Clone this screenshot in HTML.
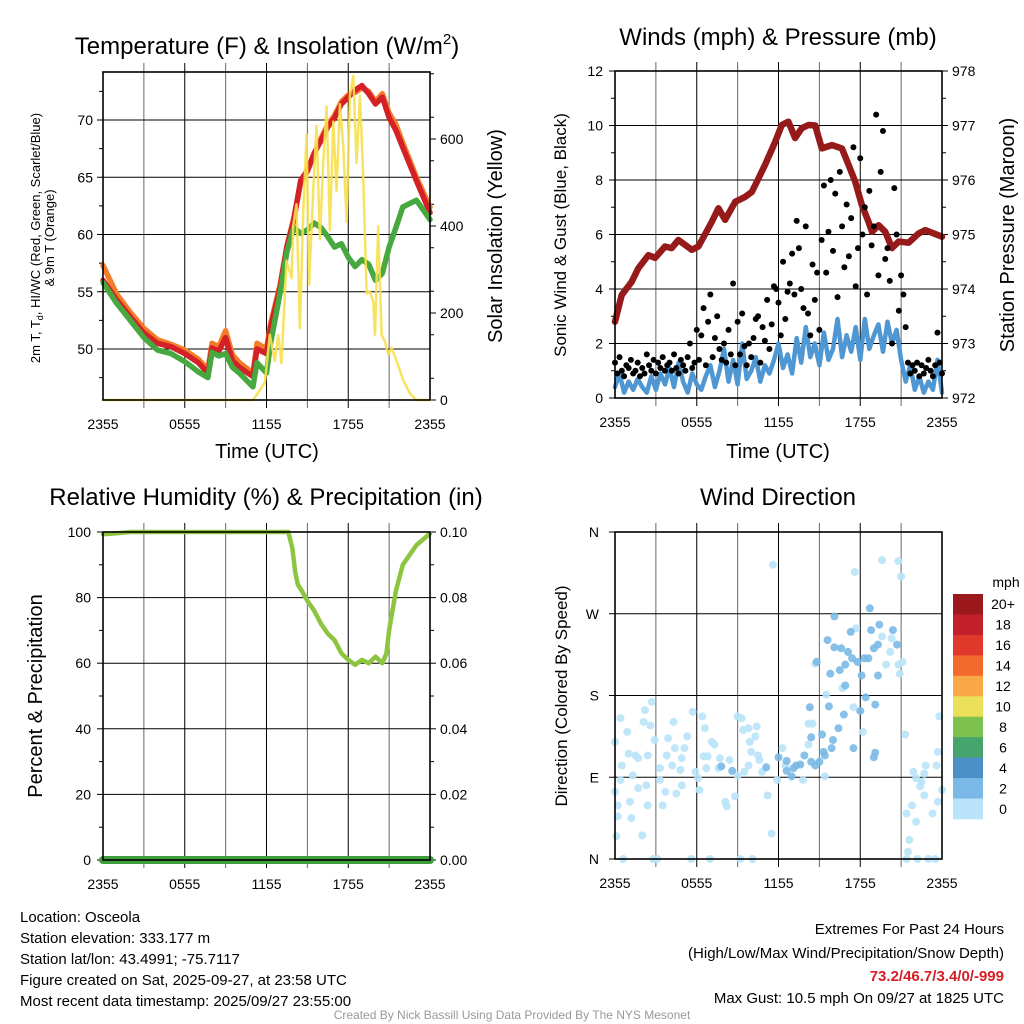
<!DOCTYPE html>
<html><head><meta charset="utf-8"><style>
html,body{margin:0;padding:0;background:#fff;}
svg{display:block;font-family:"Liberation Sans",Arial,sans-serif;}
</style></head><body>
<svg id="chart" xmlns="http://www.w3.org/2000/svg" width="1024" height="1024" viewBox="0 0 1024 1024">
<rect x="0" y="0" width="1024" height="1024" fill="#fff"/>
<g id="p1"></g>
<g id="p2"></g>
<g id="p3"></g>
<g id="p4"></g>

<text x="267" y="54" font-size="24" text-anchor="middle">Temperature (F) &amp; Insolation (W/m<tspan font-size="15" dy="-10">2</tspan><tspan dy="10">)</tspan></text>
<text x="778" y="45" font-size="24" text-anchor="middle">Winds (mph) &amp; Pressure (mb)</text>
<text x="266" y="505" font-size="24" text-anchor="middle">Relative Humidity (%) &amp; Precipitation (in)</text>
<text x="778" y="505" font-size="24" text-anchor="middle">Wind Direction</text>

<text transform="translate(40,238) rotate(-90)" font-size="13" text-anchor="middle">2m T, T<tspan font-size="9" dy="3">d</tspan><tspan dy="-3">, HI/WC (Red, Green, Scarlet/Blue)</tspan></text>
<text transform="translate(54,238) rotate(-90)" font-size="13" text-anchor="middle">&amp; 9m T (Orange)</text>
<text transform="translate(502,236) rotate(-90)" font-size="20" text-anchor="middle">Solar Insolation (Yellow)</text>
<text x="267" y="458" font-size="20" text-anchor="middle">Time (UTC)</text>
<text transform="translate(566,235) rotate(-90)" font-size="17" text-anchor="middle">Sonic Wind &amp; Gust (Blue, Black)</text>
<text transform="translate(1014,235) rotate(-90)" font-size="20" text-anchor="middle">Station Pressure (Maroon)</text>
<text x="778" y="458" font-size="20" text-anchor="middle">Time (UTC)</text>
<text transform="translate(42,696) rotate(-90)" font-size="20" text-anchor="middle">Percent &amp; Precipitation</text>
<text transform="translate(567,696) rotate(-90)" font-size="17" text-anchor="middle">Direction (Colored By Speed)</text>

<g font-size="15">
<text x="20" y="922">Location: Osceola</text>
<text x="20" y="943">Station elevation: 333.177 m</text>
<text x="20" y="964">Station lat/lon: 43.4991; -75.7117</text>
<text x="20" y="985">Figure created on Sat, 2025-09-27, at 23:58 UTC</text>
<text x="20" y="1006">Most recent data timestamp: 2025/09/27 23:55:00</text>
</g>
<g font-size="15" text-anchor="end">
<text x="1004" y="934">Extremes For Past 24 Hours</text>
<text x="1004" y="958">(High/Low/Max Wind/Precipitation/Snow Depth)</text>
<text x="1004" y="981" fill="#d42027" font-weight="bold">73.2/46.7/3.4/0/-999</text>
<text x="1004" y="1003">Max Gust: 10.5 mph On 09/27 at 1825 UTC</text>
</g>
<text x="512" y="1019" font-size="12" fill="#999" text-anchor="middle">Created By Nick Bassill Using Data Provided By The NYS Mesonet</text>
</svg>
<script>
// ---------- data ----------
const timeTickLabels = ["2355","0555","1155","1755","2355"];
const tempHours = [0,1,2,3,4,5,6,7,7.7,8,8.5,9,9.5,10,11,11.3,12,12.3,13,13.5,14,14.5,15,15.5,16,16.5,17,17.5,18,18.5,19,19.5,20,20.5,21,21.5,22,23,24];
const tempRed = [56.0,54.3,52.8,51.4,50.5,50.2,49.6,48.8,47.9,50.1,49.8,51.0,49.0,48.4,47.6,50.0,49.6,51.9,55.4,58.9,61.3,64.7,65.6,67.1,68.2,69.4,70.2,71.4,72.0,72.6,73.0,72.3,71.4,72.0,70.2,69.1,67.6,64.7,61.9];
const tempOrange = [57.3,54.8,53.2,51.8,50.8,50.4,49.9,49.1,48.2,50.5,50.2,51.6,49.5,48.8,47.9,50.5,50.0,52.2,55.6,59.0,61.4,64.5,65.5,67.0,68.4,69.6,70.4,71.6,72.2,72.4,72.8,72.5,71.6,72.3,70.6,69.6,68.0,65.0,62.4];
const tempGreen = [55.8,54.0,52.5,51.0,49.9,49.6,48.9,48.0,47.5,49.7,49.4,49.6,48.4,47.9,46.7,48.8,47.9,50.5,54.9,58.5,60.6,60.1,60.4,61.0,60.6,59.8,58.9,59.2,58.0,57.2,57.8,57.4,56.0,56.6,58.9,60.6,62.4,63.0,61.3];
const tempTicks = [50,55,60,65,70];
const solarTicks = [0,200,400,600];
const solarHours = [0,11.02,11.88,12.24,12.61,12.86,13.1,13.47,13.84,13.96,14.2,14.45,14.69,14.94,15.13,15.43,15.67,15.92,16.16,16.41,16.65,16.9,17.14,17.39,17.63,17.88,18.12,18.37,18.61,18.86,19.1,19.35,19.59,19.84,19.96,20.2,20.45,20.69,20.94,21.18,21.55,22.04,22.53,23.0,24];
const solarVals = [0,0,40,150,90,150,85,320,280,400,450,165,430,610,265,480,630,370,545,675,390,640,480,680,585,410,700,745,545,700,515,245,250,225,150,400,150,135,105,120,90,45,15,0,0];

const presHours = [0,0.49,1.22,1.71,2.45,2.94,3.67,4.16,4.65,5.63,6.12,7.1,7.59,8.08,8.82,9.55,10.04,10.53,11.02,11.76,12.24,12.73,13.22,13.71,14.2,14.69,15.18,15.92,16.65,17.14,17.63,18.12,18.61,18.86,19.35,19.84,20.33,20.82,21.55,22.29,22.78,24];
const presVals = [973.40,973.89,974.13,974.38,974.62,974.57,974.78,974.75,974.9,974.72,974.78,975.23,975.48,975.27,975.6,975.69,975.78,976.03,976.28,976.7,977.01,977.07,976.77,976.95,977.01,977.0,976.58,976.64,976.58,976.28,975.97,975.54,975.23,975.05,975.17,975.05,974.75,974.87,974.85,975.02,975.08,974.96];
const windVals = [0.4,0.9,0.2,0.6,0.3,0.7,0.4,0.2,0.8,0.3, 0.9,0.5,1.1,0.4,1.3,0.6,0.2,0.9,0.5,0.3, 0.8,1.2,0.4,1.0,1.8,0.6,1.4,0.5,2.0,0.7, 1.0,1.5,0.6,1.2,0.9,1.4,2.0,1.1,1.6,0.9, 2.2,1.3,2.6,1.5,2.0,1.2,2.4,1.4,1.8,2.9, 1.5,2.3,1.7,2.6,1.4,2.9,1.8,2.3,2.7,1.7, 2.8,2.0,2.5,1.4,0.6,1.2,0.3,0.8,0.2,0.6, 0.3,1.4,0.2];
const gustVals = [1.3,0.9,1.5,1.0,0.8,1.2,1.1,1.4,0.9,1.0,1.3,0.8,
1.1,0.9,1.6,1.2,1.0,1.4,0.9,1.3,1.1,1.5,1.0,1.2,
1.3,1.0,1.6,1.1,0.9,1.4,1.2,1.0,1.5,2.0,1.1,1.3,
2.5,1.4,2.3,3.3,1.2,2.8,3.8,1.5,2.2,3.0,1.8,1.4,
2.0,1.3,2.5,1.6,4.2,1.2,2.8,1.6,3.1,1.9,1.2,2.0,
1.5,2.2,2.9,3.0,1.3,2.6,2.1,3.6,1.8,2.7,4.1,4.0,
3.5,2.3,5.0,2.9,3.9,4.2,5.3,3.8,6.5,5.5,4.0,3.3,
6.3,3.1,2.3,4.9,3.6,4.6,2.5,5.8,7.8,4.6,6.1,8.0,
5.4,7.5,3.7,8.3,6.3,4.8,7.1,5.2,6.6,9.2,4.1,5.5,
8.8,6.0,7.0,3.8,7.6,5.6,6.3,10.4,4.5,8.3,9.8,5.1,
5.5,4.3,2.0,7.7,6.0,3.2,4.5,3.8,2.6,1.3,0.9,1.2,
1.0,1.3,0.8,1.2,0.9,1.1,1.4,1.0,0.8,1.2,2.4,1.3,0.9];
const windTicks = [0,2,4,6,8,10,12];
const presTicks = [972,973,974,975,976,977,978];

const rhHours = [0,1,2,4,8,12,13.6,13.9,14.1,14.3,14.6,15,15.5,16,16.5,17,17.5,18,18.5,19,19.5,20,20.5,20.8,21,21.5,22,23,24];
const rhVals = [99.3,99.6,100,100,100,100,100,95,88,84,82,79,76,72,69,67,63,61,59.5,61,60,62,60,63,70,82,90,96,99.5];
const precipVals = [0,0];
const rhTicks = [0,20,40,60,80,100];
const precipTicks = ["0.00","0.02","0.04","0.06","0.08","0.10"];

const dirHours = [0,0.4,0.9,0.5,1.0,1.5,2.2,2.7,2.1,2.6,2.9,2.4,1.7,1.3,0.4,0,0.2,0.2,0.1,1.1,1.2,1.7,2.0,2.4,2.3,3.3,3.9,4.3,4.4,3.8,4.2,4.9,5.3,5.1,4.8,4.9,4.5,3.7,3.5,3.3,5.7,6.4,6.6,6.2,6.1,5.9,6.5,6.8,7.1,7.3,7.7,6.7,7.6,8.4,8.1,8.2,8.8,9.0,9.3,9.4,9.8,10.4,10.3,9.9,10.0,10.5,10.6,9.8,9.5,9.0,10.8,11.2,11.5,11.6,11.9,12.3,12.5,13.8,14.2,14.5,14.2,15.4,14.7,15.5,16.7,17.5,18.2,17.6,17.7,19.6,20.8,21.0,19.6,20.2,20.3,19.9,20.8,20.9,21.1,21.3,21.9,22.1,22.5,22.7,22.8,23.6,23.8,23.7,24,23.7,23.3,22.7,22.4,21.8,21.4,22.1,21.6,21.5,
0.6,2.8,3.1,5.6,6.97,9.2,10.1,21.4,22.2,23.0,23.5,
7.8,8.6,11.1,12.0,12.6,12.96,13.3,13.6,13.1,12.6,13.9,14.4,14.7,15.0,15.3,15.4,15.2,14.4,14.3,14.8,15.6,16.1,16.1,16.6,17.1,17.4,16.9,16.5,15.8,16.9,17.3,17.8,18.1,18.3,18.6,18.7,18.8,19.0,19.3,19.4,20.4,20.7,19.3,18.4,19.1,15.7,16.4,16.0,15.9,16.8,18.0,17.5,19.1,19.0];
const dirDeg = [129,155,140,103,116,114,164,173,151,147,131,114,111,92,87,74,59,47,25,63,45,78,26,59,81,100,133,151,122,114,103,111,135,122,98,81,72,74,59,87,162,157,144,76,89,96,113,113,129,126,111,100,100,109,63,58,69,157,155,142,144,146,135,129,118,114,109,103,96,92,96,70,28,324,87,122,103,87,149,149,126,91,215,181,188,167,140,316,254,329,328,311,245,228,243,214,214,204,217,137,96,89,85,94,103,103,157,118,76,63,50,70,80,59,50,41,21,8,
0,0,0,0,0,0,0,0,0,0,0,
102,97,101,112,108,91,103,104,100,97,114,107,103,107,118,114,137,134,167,217,241,267,233,232,228,221,214,208,204,191,250,217,202,221,221,276,252,232,236,258,252,236,202,178,170,168,144,131,122,159,163,122,117,112];
const dirSpeed = [];
for (let i = 0; i < dirHours.length; i++) dirSpeed.push(i < 129 ? 1 : 3);
const dirTicks = ["N","E","S","W","N"];
const cbarLabels = ["20+","18","16","14","12","10","8","6","4","2","0"];
const cbarColors = ["#9b181d","#c1202a","#e0392c","#f26a2c","#f9a847","#ebe05a","#7cc14d","#45a56c","#4a8fc8","#7ab9e7","#b9e3f8"];

// ---------- helpers ----------
const NS = "http://www.w3.org/2000/svg";
function mk(parent, tag, attrs) {
  const e = document.createElementNS(NS, tag);
  for (const k in attrs) e.setAttribute(k, attrs[k]);
  parent.appendChild(e);
  return e;
}
function linScale(d0, d1, r0, r1) { return v => r0 + (v - d0) * (r1 - r0) / (d1 - d0); }

function frame(g, L, R, T, B) {
  // vertical grid every 3 hours with outward ticks
  const xs = linScale(0, 24, L, R);
  for (let h = 3; h < 24; h += 3) {
    const ln = mk(g, "line", {x1: xs(h), x2: xs(h), y1: T - 9, y2: B + 8, stroke: "#000", "stroke-width": 1, "stroke-opacity": h % 6 === 0 ? 1 : 0.6});
    
    
  }
  for (let i = 0; i < timeTickLabels.length; i++) {
    const t = mk(g, "text", {x: xs(i * 6), y: B + 29, "font-size": 14, "text-anchor": "middle"});
    t.textContent = timeTickLabels[i];
    
    
  }
  return xs;
}
function border(g, L, R, T, B) {
  const r = mk(g, "rect", {x: L, y: T, width: R - L, height: B - T, fill: "none", stroke: "#000", "stroke-width": 1.6});
  
  
}
function hgrid(g, L, R, y) {
  const ln = mk(g, "line", {x1: L, x2: R, y1: y, y2: y, stroke: "#000", "stroke-width": 1});
  
  
}
function ylabel(g, x, y, txt, anchor) {
  const t = mk(g, "text", {x: x, y: y + 5, "font-size": 14, "text-anchor": anchor});
  t.textContent = txt;
  
  
}
function tick(g, x1, x2, y) {
  mk(g, "line", {x1: x1, x2: x2, y1: y, y2: y, stroke: "#000", "stroke-width": 1});
}
function poly(g, xs, ys, hours, vals, color, w, name) {
  const pts = hours.map((h, i) => xs(h).toFixed(1) + "," + ys(vals[i]).toFixed(1)).join(" ");
  const p = mk(g, "polyline", {points: pts, fill: "none", stroke: color, "stroke-width": w, "stroke-linejoin": "round", "stroke-linecap": "round"});
  
  
  return p;
}

// ---------- panel 1 ----------
(function () {
  const g = document.getElementById("p1");
  const L = 103, R = 430, T = 72, B = 400;
  const xs = frame(g, L, R, T, B);
  const yT = linScale(50, 70, 349, 120);
  const yS = linScale(0, 600, 400, 139);
  tempTicks.forEach(v => { hgrid(g, L, R, yT(v)); ylabel(g, L - 10, yT(v), String(v), "end"); tick(g, L - 6, L, yT(v)); });
  for (let v = 47.5; v < 75; v += 5) tick(g, L - 4, L, yT(v));
  solarTicks.forEach(v => { ylabel(g, R + 10, yS(v), String(v), "start"); tick(g, R, R + 6, yS(v)); });
  for (let v = 50; v < 760; v += 100) tick(g, R, R + 4, yS(v));
  poly(g, xs, yT, tempHours, tempOrange, "#f47d2a", 5.5, "temp-9m-line");
  poly(g, xs, yT, tempHours, tempRed, "#d42027", 5.5, "temp-2m-line");
  poly(g, xs, yT, tempHours, tempGreen, "#46a83f", 5.5, "dewpoint-line");
  const s = poly(g, xs, yS, solarHours, solarVals, "#f7e04f", 2.5, "solar-insolation-line");
  s.setAttribute("stroke-opacity", "0.9");
  border(g, L, R, T, B);
})();

// ---------- panel 2 ----------
(function () {
  const g = document.getElementById("p2");
  const L = 615, R = 942, T = 71, B = 398;
  const xs = frame(g, L, R, T, B);
  const yW = linScale(0, 12, 398, 71);
  const yP = linScale(972, 978, 398, 71);
  windTicks.forEach(v => { hgrid(g, L, R, yW(v)); ylabel(g, L - 12, yW(v), String(v), "end"); tick(g, L - 6, L, yW(v)); });
  for (let v = 1; v < 12; v += 2) tick(g, L - 4, L, yW(v));
  presTicks.forEach(v => { ylabel(g, R + 10, yP(v), String(v), "start"); tick(g, R, R + 6, yP(v)); });
  for (let v = 972.5; v < 978; v += 1) tick(g, R, R + 4, yP(v));
  poly(g, xs, yP, presHours, presVals, "#961a1a", 6.5, "pressure-line");
  const wh = windVals.map((v, i) => i / 3);
  poly(g, xs, yW, wh, windVals, "#4f97d3", 4.5, "sonic-wind-line");
  gustVals.forEach((v, i) => {
    const c = mk(g, "circle", {cx: xs(i / 6), cy: yW(v), r: 3, fill: "#000"});
    
    
  });
  border(g, L, R, T, B);
})();

// ---------- panel 3 ----------
(function () {
  const g = document.getElementById("p3");
  const L = 103, R = 430, T = 532, B = 860;
  const xs = frame(g, L, R, T, B);
  const yR = linScale(0, 100, 860, 532);
  rhTicks.forEach((v, i) => {
    hgrid(g, L, R, yR(v));
    ylabel(g, L - 12, yR(v), String(v), "end"); tick(g, L - 6, L, yR(v));
    ylabel(g, R + 10, yR(v), precipTicks[i], "start"); tick(g, R, R + 6, yR(v));
  });
  for (let v = 10; v < 100; v += 20) { tick(g, L - 4, L, yR(v)); tick(g, R, R + 4, yR(v)); }
  poly(g, xs, yR, rhHours, rhVals, "#8dc540", 4.5, "relative-humidity-line");
  poly(g, xs, linScale(0, 0.1, 860, 532), [0, 24], precipVals, "#3e9e3e", 8, "precipitation-line");
  border(g, L, R, T, B);
})();

// ---------- panel 4 ----------
(function () {
  const g = document.getElementById("p4");
  const L = 615, R = 942, T = 532, B = 859;
  const xs = frame(g, L, R, T, B);
  const yD = linScale(0, 360, 859, 532);
  dirTicks.forEach((lab, i) => {
    hgrid(g, L, R, yD(i * 90));
    ylabel(g, L - 16, yD(i * 90), lab, "end"); tick(g, L - 6, L, yD(i * 90));
  });
  dirHours.forEach((h, i) => {
    const col = cbarColors[10 - Math.min(10, Math.floor(dirSpeed[i] / 2))];
    const c = mk(g, "circle", {cx: xs(h), cy: yD(dirDeg[i]), r: 4, fill: col, "fill-opacity": 0.9});
    
    
  });
  border(g, L, R, T, B);
  // colorbar
  const cb = mk(g, "g", {});
  
  
  const cy0 = 594, ch = 225 / cbarColors.length;
  cbarColors.forEach((col, i) => {
    const r = mk(cb, "rect", {x: 953, y: cy0 + i * ch, width: 30, height: ch + 0.3, fill: col});
    
    
    const t = mk(cb, "text", {x: 1003, y: cy0 + i * ch + ch / 2 + 5, "font-size": 14, "text-anchor": "middle"});
    t.textContent = cbarLabels[i];
    
    
  });
  const u = mk(cb, "text", {x: 1006, y: 587, "font-size": 14, "text-anchor": "middle"});
  u.textContent = "mph";
  
  
})();
</script>
</body></html>
